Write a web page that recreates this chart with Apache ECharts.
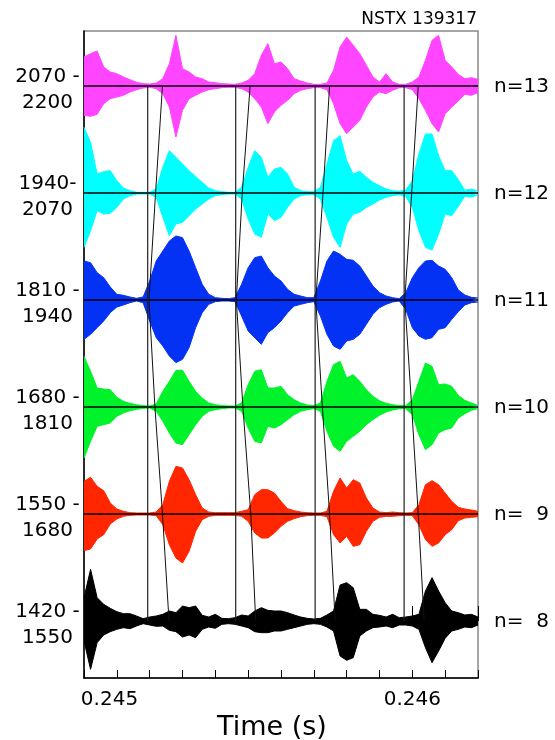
<!DOCTYPE html>
<html><head><meta charset="utf-8">
<script src="https://cdn.jsdelivr.net/npm/echarts@6/dist/echarts.min.js"></script>
<style>html,body{margin:0;padding:0;background:#fff}#c{width:555px;height:740px}</style>
</head><body><div id="c"></div>
<script>
// ---- data ----
const X_MIN = 0.245, X_MAX = 0.2462;
const TIME = [0.24500,0.24502,0.24504,0.24506,0.24508,0.24510,0.24512,0.24514,0.24516,0.24518,
0.24520,0.24522,0.24524,0.24526,0.24528,0.24530,0.24532,0.24534,0.24536,0.24538,
0.24540,0.24542,0.24544,0.24546,0.24548,0.24550,0.24552,0.24554,0.24556,0.24558,
0.24560,0.24562,0.24564,0.24566,0.24568,0.24570,0.24572,0.24574,0.24576,0.24578,
0.24580,0.24582,0.24584,0.24586,0.24588,0.24590,0.24592,0.24594,0.24596,0.24598,
0.24600,0.24602,0.24604,0.24606,0.24608,0.24610,0.24612,0.24614,0.24616,0.24618,0.24620];
const TRACE_N = [13,12,11,10,9,8];
const TRACE_SPACING = 321;
const BAND_LABELS = ['2070 -\n2200','1940-\n2070','1810 -\n1940','1680 -\n1810','1550 -\n1680','1420 -\n1550'];
const N_LABELS = ['n=13','n=12','n=11','n=10','n=  9','n=  8'];
const X_TICK_LABELS = [0.245, 0.246];

// envelope amplitudes (upper / lower), arbitrary units
const UP13 = [87,97,105,57,42,37,27,19,11,7,6,9,22,67,152,52,42,27,22,12,10,7,6,5,9,17,37,92,127,67,72,52,22,15,9,5,5,9,47,117,147,122,97,62,27,12,37,12,5,5,12,27,77,137,152,77,57,35,22,25,20];
const LO13 = [88,91,85,53,38,33,28,18,11,6,4,8,23,63,153,73,38,28,18,11,8,5,4,4,8,18,38,63,113,78,58,43,23,13,8,5,5,11,53,113,143,123,103,63,33,18,23,13,5,5,11,38,73,113,138,83,63,45,25,28,20];
const UP12 = [197,152,57,64,67,37,15,7,2,2,2,12,77,127,107,87,67,49,32,15,7,4,2,2,17,77,127,107,47,72,77,57,17,7,4,4,17,87,157,172,97,57,65,47,32,22,12,7,5,9,37,117,177,177,112,67,67,40,8,12,6];
const LO12 = [163,113,53,63,61,43,18,8,3,3,3,13,73,128,93,88,68,48,33,18,8,5,3,3,18,78,123,133,63,83,73,43,18,8,5,5,18,73,133,163,93,63,58,43,33,21,13,8,5,11,43,113,163,171,123,63,68,40,10,12,6];
const UP11 = [117,112,82,67,39,17,14,9,5,9,57,117,147,177,192,187,147,97,47,17,7,5,4,7,47,97,127,132,97,72,57,32,17,12,7,7,57,117,147,137,122,119,102,72,42,22,12,7,4,22,67,97,117,119,102,92,67,30,15,8,6];
const LO11 = [118,103,83,63,38,21,15,8,3,8,63,113,138,168,188,178,143,83,38,13,5,3,3,5,48,93,113,133,98,83,63,38,18,13,8,5,48,103,138,148,123,118,103,73,43,23,13,6,3,28,83,108,118,113,88,83,58,35,15,8,6];
const UP10 = [152,107,57,54,52,29,17,11,7,4,3,9,47,77,110,110,77,47,27,12,7,4,3,3,12,67,107,112,57,57,62,37,22,12,6,4,12,77,127,137,87,97,77,52,32,19,11,7,4,4,22,77,132,122,67,69,62,35,20,12,5];
const LO10 = [153,103,58,53,48,28,18,11,7,4,3,13,43,78,108,113,83,53,28,13,8,5,3,3,13,63,103,108,58,63,53,38,23,13,8,5,13,73,118,133,103,88,73,53,38,25,15,9,5,5,23,83,128,113,78,68,63,33,20,10,5];
const UP9 = [98,110,83,70,33,15,8,4,3,3,3,6,28,98,143,138,103,58,18,6,4,4,4,4,8,13,58,73,73,63,38,16,10,6,4,3,3,8,68,108,78,103,93,48,18,6,4,6,4,3,4,28,88,100,88,63,38,20,15,12,8];
const LO9 = [110,105,75,62,30,15,7,4,3,3,3,5,32,92,132,147,112,52,17,7,4,4,4,4,7,22,57,72,72,57,37,22,14,8,5,4,4,8,62,87,67,97,92,52,22,10,7,7,5,4,5,32,77,97,87,62,47,20,12,10,8];
const UP8 = [70,155,70,50,38,28,22,22,15,7,12,15,20,30,25,45,40,45,17,12,20,8,7,10,18,15,30,40,32,30,30,25,18,12,8,6,8,18,30,108,115,100,35,35,20,17,12,20,10,12,15,20,90,130,90,55,30,25,18,20,12];
const LO8 = [60,145,65,42,32,25,20,23,15,8,12,16,15,28,32,48,42,50,25,18,22,10,8,10,15,20,32,35,35,30,30,25,20,15,10,8,10,18,30,105,118,110,45,30,20,18,15,20,12,12,15,25,80,125,90,52,30,25,18,20,12];

// connector lines: vertical markers and slanted tracks (times for n=13..8)
const VERT_T = [0.245194, 0.245462, 0.245704, 0.245975];
const SLANT_1 = [0.245239, 0.245218, 0.245198, 0.245216, 0.245239, 0.245259];
const SLANT_2 = [0.245506, 0.245482, 0.245464, 0.245484, 0.245508, 0.245523];
const SLANT_3 = [0.245748, 0.245728, 0.245706, 0.245726, 0.245748, 0.245765];
const SLANT_4 = [0.246018, 0.245998, 0.245977, 0.245998, 0.246018, 0.246036];

// ---- chart ----
const FONT = 'DejaVu Sans';
const TRACES = [
  {n:13, up:UP13, lo:LO13, color:'#ff45ff'},
  {n:12, up:UP12, lo:LO12, color:'#00ffff'},
  {n:11, up:UP11, lo:LO11, color:'#0432f5'},
  {n:10, up:UP10, lo:LO10, color:'#00f22a'},
  {n:9,  up:UP9,  lo:LO9,  color:'#ff2600'},
  {n:8,  up:UP8,  lo:LO8,  color:'#000000'}
];
const baseOf = n => (n - 8) * TRACE_SPACING;

const series = [];
TRACES.forEach(tr => {
  const base = baseOf(tr.n);
  const mk = (arr, sign) => ({
    type:'line', xAxisIndex:0, yAxisIndex:0,
    data: TIME.map((t,i) => [t, base + sign*arr[i]]),
    symbol:'none', silent:true, animation:false, z:2,
    lineStyle:{color:tr.color, width:1},
    areaStyle:{color:tr.color, opacity:1, origin:base}
  });
  series.push(mk(tr.up, 1), mk(tr.lo, -1));
});
TRACE_N.forEach(n => {
  const base = baseOf(n);
  series.push({type:'line', data:[[X_MIN, base],[X_MAX, base]], symbol:'none', silent:true, animation:false, z:3,
    lineStyle:{color:'#000', width:1.5}});
});
VERT_T.forEach(t => {
  series.push({type:'line', data:[[t, baseOf(13)],[t, baseOf(8)]], symbol:'none', silent:true, animation:false, z:4,
    lineStyle:{color:'#222', width:1.2}});
});
[SLANT_1, SLANT_2, SLANT_3, SLANT_4].forEach(g => {
  series.push({type:'line', data:g.map((t,j) => [t, baseOf(TRACE_N[j])]), symbol:'none', silent:true, animation:false, z:4,
    lineStyle:{color:'#111', width:1}});
});

const chart = echarts.init(document.getElementById('c'));
const isTick = (v, ref) => Math.abs(v - ref) < 1e-8;
chart.setOption({
  animation:false,
  textStyle:{fontFamily:FONT},
  title:{text:'NSTX 139317', right:78, top:11, padding:0,
    textStyle:{fontSize:17, fontWeight:'normal', color:'#000', fontFamily:FONT}},
  grid:{left:84, right:77, top:31, bottom:62, outerBoundsMode:'none', containLabel:false,
    show:true, borderColor:'#888', borderWidth:1.5, backgroundColor:'transparent'},
  xAxis:[{
    type:'value', min:X_MIN, max:X_MAX, interval:0.0001, position:'bottom',
    axisLine:{show:true, onZero:false, lineStyle:{color:'#000', width:1.5}},
    axisTick:{show:true, inside:true, length:8, lineStyle:{color:'#000', width:1}},
    splitLine:{show:false},
    axisLabel:{show:true, margin:12, color:'#000', fontSize:20, fontFamily:FONT, hideOverlap:false,
      formatter: v => {
        if (isTick(v, X_TICK_LABELS[0])) return '{a|' + X_TICK_LABELS[0].toFixed(3) + '}';
        if (isTick(v, X_TICK_LABELS[1])) return X_TICK_LABELS[1].toFixed(3);
        return '';
      },
      rich:{a:{fontSize:20, fontFamily:FONT, color:'#000', padding:[0,0,0,51]}}},
    name:'Time (s)', nameLocation:'middle', nameGap:27,
    nameTextStyle:{fontSize:27, color:'#000', fontFamily:FONT, padding:[0,18,0,0]}
  },{
    type:'value', min:X_MIN, max:X_MAX, interval:0.001, position:'bottom',
    axisLine:{show:false}, axisLabel:{show:false}, splitLine:{show:false},
    axisTick:{show:true, inside:true, length:15, lineStyle:{color:'#000', width:1}}
  }],
  yAxis:{type:'value', min:-171, max:1770,
    axisLine:{show:true, onZero:false, lineStyle:{color:'#000', width:1.5}},
    axisTick:{show:false}, axisLabel:{show:false}, splitLine:{show:false}},
  series: series
});

const gfx = [];
TRACE_N.forEach((n, j) => {
  const py = chart.convertToPixel({xAxisIndex:0, yAxisIndex:0}, [X_MIN, baseOf(n)])[1];
  gfx.push({type:'text', x:47.5, y:py + 4, silent:true,
    style:{text:BAND_LABELS[j], font:'20px "DejaVu Sans"', fill:'#000', align:'center', verticalAlign:'middle', lineHeight:26}});
  gfx.push({type:'text', x:494, y:py + 1, silent:true,
    style:{text:N_LABELS[j], font:'20px "DejaVu Sans"', fill:'#000', align:'left', verticalAlign:'middle'}});
});
chart.setOption({graphic:gfx});
</script>
</body></html>
